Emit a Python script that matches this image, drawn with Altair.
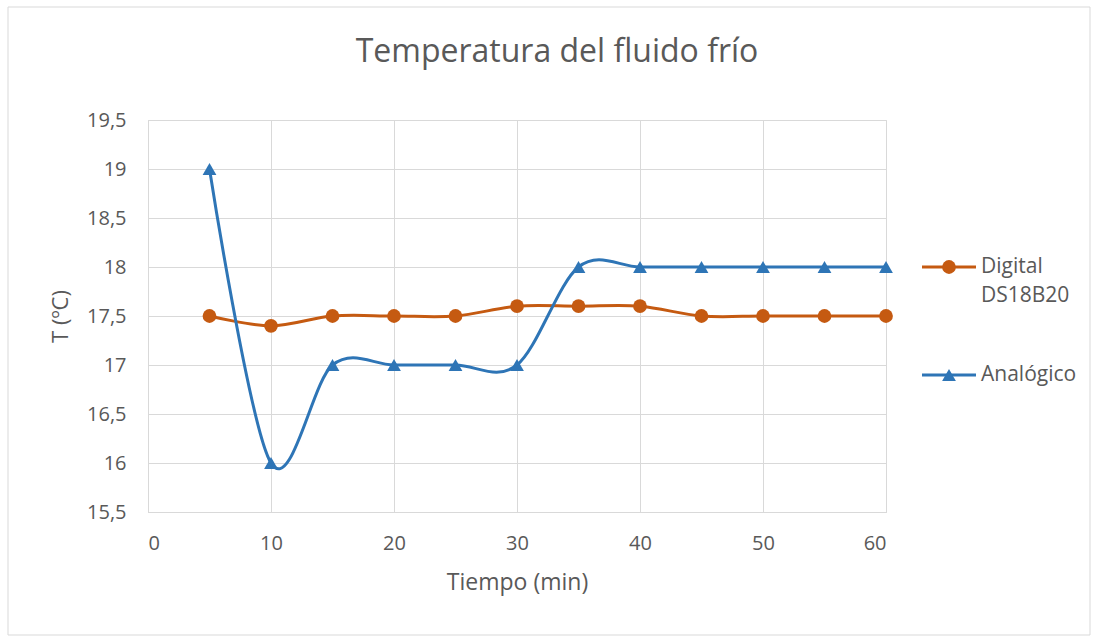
import altair as alt
import pandas as pd

tiempo = [5, 10, 15, 20, 25, 30, 35, 40, 45, 50, 55, 60]
digital = [17.5, 17.4, 17.5, 17.5, 17.5, 17.6, 17.6, 17.6, 17.5, 17.5, 17.5, 17.5]
analogico = [19, 16, 17, 17, 17, 17, 18, 18, 18, 18, 18, 18]
series_names = ["Digital DS18B20", "Analógico"]
series_colors = ["#C55A11", "#2E75B6"]
series_shapes = ["circle", "triangle-up"]

rows = []
for name, vals in zip(series_names, [digital, analogico]):
    for t, v in zip(tiempo, vals):
        rows.append({"Tiempo": t, "T": v, "Serie": name})
df = pd.DataFrame(rows)

font = "Open Sans"
grey = "#595959"

x = alt.X("Tiempo:Q", scale=alt.Scale(domain=[0, 60], nice=False),
          axis=alt.Axis(values=list(range(0, 61, 10)), title="Tiempo (min)",
                        ticks=False, labelPadding=21, labelFontSize=20, labelColor=grey,
                        labelFont=font, titleFont=font, titleFontSize=23, titleColor=grey,
                        titleFontWeight="normal", titleX=369, titleY=70,
                        titleBaseline="middle", domainColor="#d9d9d9", gridColor="#d9d9d9"))
y = alt.Y("T:Q", scale=alt.Scale(domain=[15.5, 19.5], nice=False, zero=False),
          axis=alt.Axis(values=[15.5 + 0.5 * i for i in range(9)], title="T (ºC)",
                        labelExpr="replace(format(datum.value, '.1~f'), '.', ',')",
                        ticks=False, labelPadding=22, labelFontSize=20, labelColor=grey,
                        labelFont=font, titleFont=font, titleFontSize=22, titleColor=grey,
                        titleFontWeight="normal", titleX=-88, titleY=196, titleAngle=-90,
                        titleAlign="center", titleBaseline="middle",
                        domainColor="#d9d9d9", gridColor="#d9d9d9"))
color = alt.Color("Serie:N", scale=alt.Scale(domain=series_names, range=series_colors), legend=None)
shape = alt.Shape("Serie:N", scale=alt.Scale(domain=series_names, range=series_shapes), legend=None)

base = alt.Chart(df)
lines = base.mark_line(interpolate="cardinal", strokeWidth=3).encode(x=x, y=y, color=color, detail="Serie:N")
points = base.mark_point(filled=True, size=190, opacity=1).encode(x=x, y=y, color=color, shape=shape)

# legend
leg = pd.DataFrame({"Serie": series_names,
                    "label": [["Digital", "DS18B20"], ["Analógico"]],
                    "py": [147, 255]})
lb = alt.Chart(leg)
leg_line = lb.mark_rule(strokeWidth=3).encode(
    x=alt.value(774), x2=alt.value(828), y=alt.Y("py:Q", scale=None), color=color)
leg_pt = lb.mark_point(filled=True, size=190, opacity=1).encode(
    x=alt.value(801), y=alt.Y("py:Q", scale=None), color=color, shape=shape)
leg_txt = lb.mark_text(align="left", baseline="middle", font=font, fontSize=21,
                       color=grey, lineHeight=29).encode(
    x=alt.value(833), y=alt.Y("py:Q", scale=None), text="label")

border = alt.Chart(pd.DataFrame({"a": [0]})).mark_rect(
    fill=None, stroke="#d9d9d9", strokeWidth=1).encode(
    x=alt.value(-140), x2=alt.value(942), y=alt.value(-113), y2=alt.value(515))

chart = alt.layer(border, lines, points, leg_line, leg_pt, leg_txt).properties(
    width=738, height=392,
    title=alt.TitleParams("Temperatura del fluido frío", font=font, fontSize=32,
                          fontWeight="normal", color=grey, anchor="middle",
                          frame="group", dx=40, offset=-62),
    padding={"left": 148, "top": 120, "right": 211, "bottom": 132},
    autosize=alt.AutoSizeParams(type="none"),
).configure_view(stroke=None).configure(background="white")

chart.save("out.html", embed_options={"renderer": "svg", "actions": False})
